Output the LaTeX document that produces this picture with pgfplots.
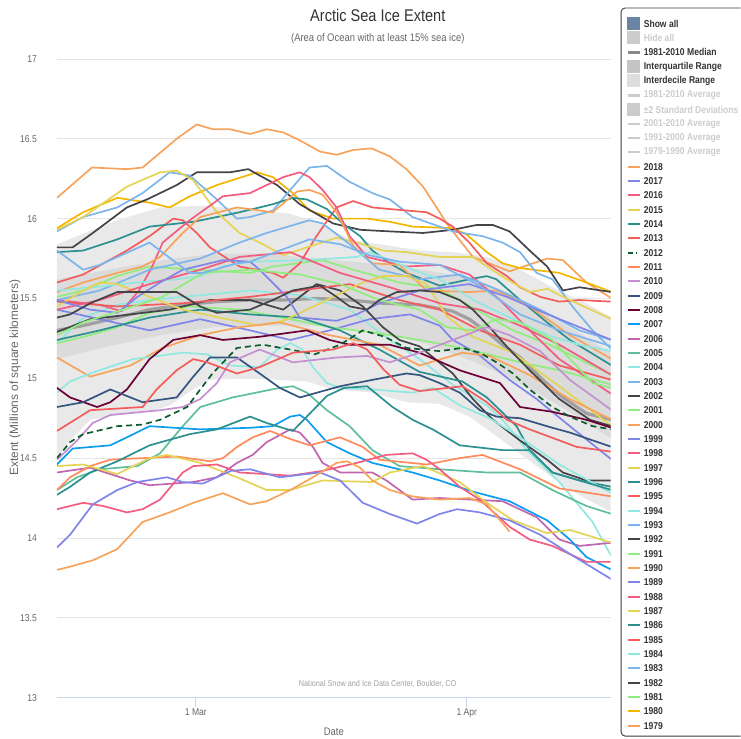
\documentclass[border=0pt]{standalone}
\usepackage{fontspec}
\setmainfont{Liberation Sans}[FakeStretch=0.86]
\newfontfamily\widefont{Liberation Sans}
\usepackage{pgfplots}
\pgfplotsset{compat=1.18}
\definecolor{cOr}{HTML}{F7A35C}
\definecolor{cGold}{HTML}{F5B500}
\definecolor{cGr}{HTML}{90ED7D}
\definecolor{cDk}{HTML}{434348}
\definecolor{cBl}{HTML}{7CB5EC}
\definecolor{cCy}{HTML}{91E8E1}
\definecolor{cRd}{HTML}{F45B5B}
\definecolor{cTl}{HTML}{2B908F}
\definecolor{cYl}{HTML}{E4D354}
\definecolor{cPk}{HTML}{F15C80}
\definecolor{cPu}{HTML}{8085E9}
\definecolor{c2005}{HTML}{5EBF9A}
\definecolor{c2006}{HTML}{C065B0}
\definecolor{c2007}{HTML}{0C9CF0}
\definecolor{c2008}{HTML}{6B0033}
\definecolor{c2009}{HTML}{33557F}
\definecolor{c2010}{HTML}{C490D2}
\definecolor{c2011}{HTML}{FF8A5C}
\definecolor{c2012}{HTML}{0D5C2E}
\definecolor{cMed}{HTML}{A0A0A0}
\definecolor{cIdr}{HTML}{E9E9E9}
\definecolor{cIqr}{HTML}{DBDBDB}
\definecolor{gridc}{HTML}{E6E6E6}
\definecolor{axisc}{HTML}{CCD6EB}
\definecolor{tickc}{HTML}{666666}
\definecolor{legtext}{HTML}{333333}
\definecolor{legbord}{HTML}{3C3C3C}
\definecolor{credc}{HTML}{A0A0A0}
\definecolor{hidc}{HTML}{CCCCCC}
\definecolor{showc}{HTML}{6A84A3}
\newcommand\tickfont{\fontsize{10}{12}\selectfont}
\newcommand\legfont{\bfseries\fontsize{10}{12}\selectfont}
\newcommand\LL[4]{%
 \pgfmathsetmacro\yy{-(23.5+#1*14.34)}%
 \draw[#2] (628,\yy) -- (640,\yy);%
 \node[anchor=west, inner sep=0pt, font=\legfont, text=#3] at (644,\yy) {#4};}
\newcommand\LB[4]{%
 \pgfmathsetmacro\yy{-(23.5+#1*14.34)}%
 \fill[#2] (627.5,\yy-6.5) rectangle (640.5,\yy+6.5);%
 \node[anchor=west, inner sep=0pt, font=\legfont, text=#3] at (644,\yy) {#4};}
\begin{document}
\begin{tikzpicture}[x=1bp,y=1bp]
\path (0,0) rectangle (741,-738);
\coordinate (AXO) at (57,-698);
\begin{axis}[
  at={(AXO)}, anchor=south west,
  scale only axis, width=554bp, height=639bp,
  xmin=44.1, xmax=107.47, ymin=13, ymax=17,
  axis line style={draw=none},
  ytick={13,13.5,14,14.5,15,15.5,16,16.5,17},
  yticklabels={13,13.5,14,14.5,15,15.5,16,16.5,17},
  xtick={60,91}, xticklabels={1 Mar,1 Apr},
  xtick pos=lower, ytick pos=left,
  tick align=outside, major tick length=9bp,
  x tick style={draw=axisc, line width=1bp},
  y tick style={draw=none},
  ymajorgrids, grid style={draw=gridc, line width=0.8bp},
  ticklabel style={font=\tickfont, text=tickc},
  yticklabel style={anchor=east, inner sep=0pt, xshift=-11bp},
  xticklabel style={anchor=base, inner sep=0pt, yshift=-9bp},
  /pgf/number format/assume math mode=true,
  clip=true,
]
% interdecile range
\addplot[fill=cIdr, draw=none] coordinates {(44.1,15.84)(51.0,15.99)(55.9,16.07)(60.5,16.08)(66.2,16.06)(70.8,16.03)(74.2,15.97)(77.6,15.87)(81.0,15.84)(85.6,15.80)(89.4,15.79)(93.3,15.76)(97.1,15.68)(100.8,15.57)(104.7,15.47)(107.6,15.38)
 (107.6,14.16)(102.8,14.30)(99.0,14.45)(95.1,14.61)(91.3,14.76)(87.9,14.84)(84.1,14.85)(80.2,14.91)(75.7,14.93)(72.7,14.98)(66.2,15.00)(61.6,14.99)(59.7,14.93)(57.0,14.83)(54.7,14.79)(51.0,14.77)(47.9,14.74)(45.6,14.61)(44.1,14.49)(44.1,15.84)};
% interquartile range
\addplot[fill=cIqr, draw=none] coordinates {(44.1,15.62)(50,15.68)(56,15.74)(62,15.78)(68,15.78)(74,15.75)(80,15.72)(86,15.68)(92,15.62)(96,15.52)(100,15.40)(104,15.28)(107.6,15.15)
 (107.6,14.62)(104,14.75)(100,14.88)(96,15.0)(92,15.10)(86,15.22)(80,15.30)(74,15.33)(68,15.33)(62,15.32)(56,15.27)(50,15.20)(44.1,15.12)(44.1,15.62)};
% median
\addplot[cMed, line width=3.2bp] coordinates {(44.1,15.30)(47.1,15.33)(51.0,15.38)(54.7,15.43)(58.5,15.46)(62.4,15.48)(66.2,15.49)(70.0,15.49)(73.8,15.50)(77.6,15.49)(81.4,15.47)(85.6,15.46)(89.4,15.42)(91.3,15.37)(93.3,15.29)(95.1,15.21)(97.1,15.13)(99.7,14.99)(102.0,14.88)(104.7,14.78)(107.6,14.74)};
\pgfplotsset{every axis plot/.append style={line width=1.7bp, line join=round}}
% 1979
\addplot[cOr] coordinates {(44.1,16.13)(48.1,16.32)(52.1,16.31)(53.9,16.32)(57.8,16.50)(60.1,16.59)(61.9,16.56)(63.9,16.56)(66.2,16.53)(68.1,16.56)(70.0,16.54)(71.9,16.49)(74.2,16.42)(76.1,16.40)(78.0,16.43)(80.1,16.44)(82.2,16.39)(84.1,16.31)(86.0,16.20)(87.9,16.04)(88.7,15.97)(91.7,15.76)(95.9,15.67)(100.2,15.75)(102.0,15.74)(104.7,15.60)(107.6,15.50)};
% 1980
\addplot[cGold] coordinates {(44.1,15.94)(47.1,16.04)(51.0,16.13)(54.7,16.10)(57.0,16.07)(59.3,16.14)(62.4,16.21)(67.0,16.29)(68.8,16.26)(71.1,16.16)(73.0,16.05)(75.7,16.00)(79.6,16.00)(82.2,15.98)(84.8,15.95)(89.4,15.94)(91.0,15.90)(93.3,15.79)(95.1,15.72)(97.1,15.69)(101.6,15.66)(104.7,15.60)(107.6,15.54)};
% 1981
\addplot[cGr] coordinates {(44.1,15.51)(47.1,15.55)(51.0,15.64)(54.7,15.70)(59.7,15.68)(66.2,15.66)(68.8,15.70)(74.5,15.74)(78.0,15.68)(83.3,15.60)(87.9,15.56)(92.1,15.43)(96.3,15.30)(100.5,15.21)(107.6,15.02)};
% 1982
\addplot[cDk] coordinates {(44.1,15.82)(45.9,15.82)(48.2,15.91)(52.1,16.07)(54.4,16.12)(57.8,16.21)(60.1,16.29)(63.9,16.29)(66.0,16.31)(67.3,16.27)(69.3,16.21)(71.9,16.09)(75.7,15.97)(78.8,15.93)(82.2,15.92)(86.0,15.91)(89.4,15.93)(92.1,15.96)(94.0,15.96)(95.9,15.92)(98.2,15.80)(100.2,15.70)(102.0,15.55)(103.9,15.57)(107.6,15.54)};
% 1983
\addplot[cBl] coordinates {(44.1,15.92)(47.1,16.01)(51.0,16.07)(53.9,16.16)(57.0,16.29)(59.3,16.27)(62.4,16.12)(64.7,16.00)(66.2,16.01)(68.8,16.05)(70.8,16.18)(73.0,16.32)(75.0,16.33)(77.6,16.23)(80.2,16.16)(82.2,16.12)(84.8,16.01)(87.9,15.95)(89.4,15.92)(92.8,15.89)(95.1,15.85)(97.1,15.79)(99.0,15.66)(100.8,15.62)(103.1,15.45)(105.4,15.30)(107.6,15.18)};
% 1984
\addplot[cCy] coordinates {(44.1,15.22)(47.1,15.38)(51.0,15.46)(54.7,15.49)(60.5,15.52)(66.2,15.55)(71.9,15.52)(77.6,15.43)(82.2,15.24)(85.6,15.12)(89.4,14.96)(93.3,14.83)(95.1,14.74)(97.9,14.55)(101.6,14.35)(105.4,14.10)(107.6,13.88)};
% 1985
\addplot[cRd] coordinates {(44.1,15.60)(47.1,15.65)(52.1,15.80)(54.7,15.89)(57.4,16.00)(58.5,15.99)(60.1,15.91)(61.6,15.82)(65.0,15.70)(68.8,15.66)(70.0,15.63)(71.9,15.72)(73.8,15.89)(76.1,16.07)(78.0,16.11)(80.2,16.07)(82.2,16.06)(86.4,16.04)(87.9,16.00)(89.4,15.95)(91.3,15.85)(93.3,15.72)(95.6,15.64)(97.1,15.57)(99.4,15.51)(101.6,15.48)(103.9,15.49)(107.6,15.48)};
% 1986
\addplot[cTl] coordinates {(44.1,15.79)(47.1,15.80)(51.0,15.87)(54.7,15.95)(59.7,15.98)(62.4,16.01)(65.0,16.04)(68.8,16.09)(71.1,16.13)(72.7,16.12)(75.0,16.06)(76.8,15.97)(78.8,15.89)(80.2,15.80)(82.2,15.72)(84.1,15.66)(86.0,15.62)(87.9,15.58)(91.3,15.62)(93.3,15.64)(94.4,15.62)(97.1,15.49)(100.2,15.35)(102.8,15.24)(107.6,15.08)};
% 1987
\addplot[cYl] coordinates {(44.1,15.93)(47.1,16.01)(52.1,16.20)(55.9,16.29)(57.8,16.30)(59.7,16.24)(62.4,16.04)(65.0,15.91)(67.3,15.85)(70.0,15.77)(72.7,15.82)(76.1,15.88)(78.4,15.85)(81.4,15.80)(84.1,15.79)(87.9,15.76)(91.7,15.76)(93.3,15.70)(95.6,15.62)(98.2,15.54)(100.2,15.56)(102.8,15.49)(107.6,15.37)};
% 1988
\addplot[cPk] coordinates {(44.1,15.49)(49.0,15.46)(51.5,15.42)(53.5,15.55)(55.0,15.70)(56.2,15.85)(59.3,15.99)(63.1,16.14)(66.2,16.16)(70.0,16.26)(71.9,16.29)(73.0,16.26)(74.5,16.18)(76.1,16.07)(77.6,15.89)(79.6,15.76)(84.1,15.70)(87.9,15.71)(91.3,15.65)(94.8,15.49)(98.2,15.30)(101.6,15.12)(107.6,14.90)};
% 1989
\addplot[cPu] coordinates {(44.1,15.43)(49.0,15.37)(54.7,15.30)(60.5,15.37)(66.2,15.30)(70.8,15.24)(75.3,15.30)(79.9,15.37)(84.5,15.40)(87.9,15.33)(89.4,15.24)(92.1,15.16)(95.9,14.99)(99.0,14.87)(102.8,14.70)(107.6,14.49)};
% 1990
\addplot[cOr] coordinates {(44.1,15.54)(47.1,15.60)(51.0,15.66)(53.9,15.70)(55.9,15.76)(58.5,15.91)(60.5,16.01)(64.7,16.07)(68.8,16.04)(71.6,16.17)(73.0,16.18)(74.5,16.15)(76.1,16.04)(78.0,15.83)(80.2,15.72)(83.3,15.71)(86.4,15.55)(91.3,15.54)(94.4,15.55)(98.2,15.45)(102.8,15.27)(107.6,15.12)};
% 1991
\addplot[cGr] coordinates {(44.1,15.22)(47.9,15.27)(51.0,15.32)(54.7,15.41)(59.3,15.45)(65.0,15.43)(70.8,15.37)(75.3,15.32)(79.9,15.29)(85.6,15.24)(91.3,15.18)(97.1,15.10)(101.6,15.05)(107.6,14.96)};
% 1992
\addplot[cDk] coordinates {(44.1,15.29)(47.9,15.37)(52.5,15.40)(57.0,15.43)(61.6,15.49)(66.2,15.49)(70.0,15.43)(73.8,15.59)(76.5,15.55)(79.1,15.45)(81.4,15.32)(83.3,15.24)(85.6,15.20)(89.4,15.03)(91.7,14.87)(94.0,14.74)(97.1,14.61)(100.2,14.49)(102.0,14.41)(104.7,14.36)(107.6,14.36)};
% 1993
\addplot[cBl] coordinates {(44.1,15.49)(49.0,15.55)(54.7,15.68)(60.5,15.75)(65.0,15.85)(68.1,15.91)(73.0,15.99)(74.5,15.97)(77.6,15.84)(81.0,15.68)(85.6,15.62)(90.2,15.65)(94.8,15.55)(99.4,15.43)(103.9,15.30)(107.6,15.24)};
% 1994
\addplot[cCy] coordinates {(44.1,15.55)(48.2,15.57)(53.3,15.60)(57.8,15.62)(60.5,15.64)(63.1,15.70)(66.2,15.73)(72.7,15.74)(78.4,15.76)(79.9,15.79)(82.2,15.74)(84.8,15.68)(87.9,15.62)(92.1,15.48)(97.1,15.35)(100.8,15.26)(103.9,15.21)(107.6,15.17)};
% 1995
\addplot[cRd] coordinates {(44.1,15.48)(51.0,15.45)(58.5,15.47)(66.2,15.51)(71.9,15.55)(77.6,15.59)(83.3,15.49)(87.9,15.43)(92.5,15.30)(97.1,15.21)(101.6,15.08)(107.6,14.99)};
% 1996
\addplot[cTl] coordinates {(44.1,15.24)(49.0,15.30)(54.7,15.38)(60.5,15.43)(66.2,15.40)(71.9,15.38)(76.5,15.30)(81.0,15.18)(85.6,15.04)(90.5,14.98)(93.3,14.88)(96.7,14.70)(98.2,14.55)(100.8,14.41)(103.9,14.36)(107.6,14.32)};
% 1997
\addplot[cYl] coordinates {(44.1,15.45)(47.1,15.55)(49.0,15.60)(51.0,15.59)(54.7,15.51)(58.5,15.43)(62.7,15.38)(67.3,15.33)(70.0,15.36)(72.7,15.43)(76.5,15.53)(79.1,15.60)(81.4,15.64)(84.1,15.64)(86.4,15.59)(88.7,15.39)(91.7,15.26)(96.3,15.16)(101.6,14.95)(107.6,14.70)};
% 1998
\addplot[cPk] coordinates {(44.1,15.43)(49.0,15.49)(54.7,15.59)(60.5,15.68)(65.0,15.76)(70.8,15.79)(76.5,15.66)(82.2,15.57)(87.9,15.47)(92.5,15.43)(97.1,15.33)(101.6,15.21)(107.6,15.02)};
% 1999
\addplot[cPu] coordinates {(44.1,15.49)(47.9,15.43)(51.0,15.41)(53.3,15.51)(55.9,15.60)(58.5,15.68)(63.1,15.74)(66.2,15.73)(67.3,15.68)(70.4,15.51)(71.9,15.38)(76.1,15.36)(78.4,15.40)(81.0,15.47)(85.6,15.55)(91.3,15.59)(95.6,15.51)(99.4,15.42)(103.9,15.32)(107.6,15.24)};
% 2000
\addplot[cOr] coordinates {(44.1,15.13)(47.9,15.01)(52.5,15.08)(56.2,15.19)(60.5,15.27)(65.0,15.32)(69.6,15.35)(75.3,15.27)(81.0,15.21)(85.6,15.08)(90.5,15.16)(93.6,15.14)(98.2,15.02)(102.8,14.87)(107.6,14.74)};
% 2001
\addplot[cGr] coordinates {(44.1,15.27)(47.1,15.35)(51.7,15.43)(56.2,15.51)(60.8,15.66)(66.2,15.68)(71.9,15.65)(76.5,15.59)(81.0,15.49)(85.6,15.43)(88.7,15.32)(91.7,15.30)(94.4,15.37)(97.1,15.35)(100.8,15.24)(105.4,14.97)(107.6,14.94)};
% 2002
\addplot[cDk] coordinates {(44.1,15.38)(45.6,15.40)(47.9,15.47)(51.0,15.54)(54.7,15.54)(57.8,15.54)(60.5,15.45)(62.4,15.41)(66.2,15.43)(68.8,15.49)(71.1,15.55)(74.2,15.58)(76.1,15.51)(77.6,15.45)(79.6,15.43)(81.0,15.49)(83.0,15.54)(85.6,15.55)(87.9,15.54)(90.2,15.49)(91.7,15.43)(93.6,15.32)(95.9,15.18)(98.2,15.05)(101.6,14.87)(105.1,14.74)(107.6,14.70)};
% 2003
\addplot[cBl] coordinates {(44.1,15.80)(47.1,15.68)(49.0,15.71)(54.7,15.85)(55.9,15.80)(59.3,15.66)(60.8,15.66)(64.7,15.72)(66.2,15.73)(69.6,15.80)(73.0,15.87)(76.5,15.84)(79.9,15.77)(83.3,15.73)(87.9,15.71)(92.5,15.58)(97.1,15.40)(101.6,15.30)(107.6,15.20)};
% 2004
\addplot[cCy] coordinates {(44.1,14.91)(45.6,14.98)(47.9,15.03)(52.8,15.12)(58.5,15.16)(61.3,15.15)(63.9,15.08)(67.3,15.07)(69.3,15.18)(70.8,15.22)(72.2,15.18)(73.4,15.07)(75.0,14.97)(76.5,14.94)(80.2,14.93)(84.8,14.91)(87.1,14.94)(90.2,14.83)(93.6,14.75)(97.1,14.63)(101.6,14.46)(107.6,14.28)};
% 2005
\addplot[c2005] coordinates {(44.1,14.30)(46.4,14.38)(49.0,14.43)(53.3,14.45)(55.9,14.53)(58.5,14.70)(60.5,14.82)(64.2,14.88)(69.6,14.94)(71.1,14.95)(72.7,14.91)(75.0,14.80)(77.6,14.70)(80.2,14.55)(83.3,14.45)(87.9,14.43)(93.3,14.41)(97.1,14.41)(100.8,14.30)(104.7,14.20)(107.6,14.15)};
% 2006
\addplot[c2006] coordinates {(44.1,14.41)(47.9,14.44)(52.5,14.36)(54.7,14.33)(59.7,14.35)(62.4,14.38)(64.7,14.47)(66.5,14.52)(68.1,14.60)(70.8,14.68)(71.9,14.66)(73.4,14.57)(74.5,14.47)(76.5,14.41)(80.2,14.41)(81.8,14.36)(84.8,14.24)(87.9,14.25)(95.1,14.23)(99.0,14.13)(101.6,13.99)(103.9,13.95)(107.6,13.97)};
% 2007
\addplot[c2007] coordinates {(44.1,14.46)(45.9,14.56)(50.2,14.58)(52.1,14.63)(54.7,14.70)(60.5,14.68)(66.2,14.69)(68.8,14.70)(70.8,14.76)(71.9,14.77)(72.7,14.74)(75.0,14.60)(77.6,14.53)(80.2,14.47)(84.8,14.41)(87.9,14.36)(91.7,14.29)(95.9,14.23)(100.2,14.11)(102.8,13.99)(104.7,13.88)(107.6,13.80)};
% 2008
\addplot[c2008] coordinates {(44.1,14.94)(45.6,14.88)(48.7,14.82)(50.2,14.85)(52.1,14.93)(54.7,15.12)(57.4,15.24)(60.5,15.27)(63.1,15.24)(67.3,15.26)(72.7,15.30)(75.3,15.24)(77.6,15.21)(82.2,15.21)(85.6,15.16)(90.2,15.05)(94.8,14.97)(97.1,14.82)(100.8,14.79)(104.7,14.74)(107.6,14.69)};
% 2009
\addplot[c2009] coordinates {(44.1,14.82)(47.1,14.85)(50.2,14.93)(53.9,14.85)(57.8,14.88)(59.7,15.01)(61.6,15.13)(64.7,15.13)(67.3,15.03)(69.6,14.94)(71.9,14.88)(76.5,14.95)(80.2,14.99)(84.1,15.03)(85.6,15.02)(87.9,14.97)(90.2,14.91)(92.5,14.80)(94.4,14.76)(97.1,14.75)(100.8,14.69)(102.8,14.66)(107.6,14.57)};
% 2010
\addplot[c2010] coordinates {(44.1,14.49)(46.4,14.61)(48.2,14.72)(50.2,14.77)(55.9,14.80)(58.5,14.82)(60.5,14.87)(62.4,14.97)(63.9,15.10)(67.3,15.18)(71.1,15.10)(76.1,15.13)(79.6,15.14)(82.2,15.10)(85.6,15.16)(89.4,15.24)(93.3,15.32)(95.9,15.27)(99.4,15.17)(102.8,14.99)(107.6,14.80)};
% 2011
\addplot[c2011] coordinates {(44.1,14.30)(45.6,14.38)(47.9,14.45)(50.2,14.49)(57.8,14.51)(61.6,14.48)(63.1,14.50)(64.7,14.57)(66.5,14.63)(68.5,14.67)(70.8,14.62)(73.0,14.58)(76.5,14.63)(79.1,14.57)(81.0,14.49)(86.4,14.46)(90.2,14.50)(92.8,14.52)(97.1,14.43)(101.6,14.31)(107.6,14.26)};
% 2012
\addplot[c2012, dash pattern=on 6bp off 4bp] coordinates {(44.1,14.50)(45.6,14.60)(47.1,14.65)(51.0,14.70)(53.9,14.71)(55.9,14.74)(59.0,14.82)(60.5,14.93)(61.9,15.03)(64.7,15.19)(67.7,15.21)(70.8,15.18)(73.6,15.15)(76.5,15.21)(79.1,15.30)(81.6,15.26)(84.1,15.19)(87.9,15.17)(90.5,15.19)(92.5,15.16)(94.4,15.10)(96.3,15.03)(98.2,14.93)(100.8,14.82)(102.8,14.76)(105.4,14.70)(107.6,14.68)};
% 2013
\addplot[cRd] coordinates {(44.1,14.67)(47.9,14.80)(53.9,14.82)(55.5,14.93)(57.8,15.05)(59.7,15.12)(61.3,15.10)(64.7,15.03)(67.3,15.07)(71.1,15.16)(75.7,15.18)(78.0,15.22)(79.6,15.18)(81.4,15.06)(83.3,14.96)(85.6,14.92)(90.5,14.95)(93.3,14.85)(95.6,14.74)(98.2,14.68)(103.6,14.57)(107.6,14.54)};
% 2014
\addplot[cTl] coordinates {(44.1,14.27)(45.6,14.32)(47.9,14.41)(51.0,14.48)(54.7,14.58)(59.3,14.65)(62.4,14.68)(66.2,14.76)(68.1,14.72)(71.1,14.67)(72.7,14.76)(75.0,14.89)(77.0,14.94)(79.6,14.95)(82.5,14.82)(84.8,14.74)(87.1,14.68)(90.2,14.58)(95.1,14.55)(98.2,14.55)(100.8,14.41)(107.6,14.30)};
% 2015
\addplot[cYl] coordinates {(44.1,14.45)(47.1,14.46)(51.0,14.40)(54.7,14.50)(56.7,14.52)(60.5,14.47)(64.7,14.38)(68.1,14.30)(70.8,14.30)(74.5,14.36)(80.2,14.35)(82.2,14.41)(86.0,14.45)(90.2,14.35)(93.3,14.22)(96.3,14.11)(100.2,14.03)(102.8,14.05)(107.6,13.97)};
% 2016
\addplot[cPk] coordinates {(44.1,14.18)(47.1,14.22)(49.4,14.20)(52.1,14.16)(53.9,14.18)(55.9,14.24)(58.5,14.41)(59.7,14.45)(62.4,14.46)(65.0,14.41)(70.8,14.39)(74.5,14.42)(78.4,14.47)(81.8,14.52)(84.8,14.53)(86.4,14.49)(87.9,14.43)(90.2,14.32)(92.5,14.24)(95.9,14.07)(98.2,13.99)(100.8,13.95)(104.7,13.85)(107.6,13.85)};
% 2017
\addplot[cPu] coordinates {(44.1,13.94)(45.6,14.02)(48.2,14.21)(51.0,14.30)(53.3,14.35)(56.7,14.38)(58.5,14.35)(60.8,14.34)(64.0,14.42)(66.2,14.43)(69.6,14.38)(74.2,14.41)(76.5,14.36)(79.1,14.22)(82.2,14.15)(85.3,14.09)(87.9,14.15)(89.9,14.18)(92.5,14.16)(95.9,14.11)(99.4,14.02)(102.8,13.90)(107.6,13.74)};
% 2018
\addplot[cOr] coordinates {(44.1,13.80)(45.6,13.82)(48.2,13.86)(51.0,13.93)(53.9,14.10)(57.0,14.16)(59.7,14.22)(63.1,14.28)(66.2,14.21)(68.1,14.23)(70.8,14.30)(73.4,14.38)(76.1,14.47)(77.3,14.48)(78.8,14.44)(80.2,14.36)(82.2,14.30)(84.8,14.26)(87.9,14.24)(91.3,14.25)(93.3,14.21)(95.9,14.04)};
\draw[axisc, line width=1bp] (rel axis cs:0,0) -- (rel axis cs:1,0);
\node[font=\fontsize{8.5}{10}\selectfont, text=credc] at (axis cs:80.8,13.088) {National Snow and Ice Data Center, Boulder, CO};
\end{axis}
% titles
\node[font=\fontsize{17}{20}\selectfont, text=legtext] at (378,-15) {Arctic Sea Ice Extent};
\node[font=\fontsize{11}{13}\selectfont, text=tickc] at (378,-39) {(Area of Ocean with at least 15\% sea ice)};
\node[font=\widefont\fontsize{12}{14}\selectfont, text=tickc, rotate=90] at (15,-378) {Extent (Millions of square kilometers)};
\node[font=\fontsize{11}{13}\selectfont, text=tickc] at (334,-732) {Date};
% legend
\draw[rounded corners=4bp, draw=legbord, line width=0.9bp] (741,-8) -- (621.5,-8) -- (621.5,-736.5) -- (741,-736.5);
\LB{0}{showc}{legtext}{Show all}
\LB{1}{hidc}{hidc}{Hide all}
\LL{2}{cMed!85!black, line width=3bp}{legtext}{1981-2010 Median}
\LB{3}{cIqr!90!black}{legtext}{Interquartile Range}
\LB{4}{cIdr!95!black}{legtext}{Interdecile Range}
\LL{5}{hidc, line width=3bp}{hidc}{1981-2010 Average}
\LB{6}{hidc}{hidc}{±2 Standard Deviations}
\LL{7}{hidc, line width=2bp}{hidc}{2001-2010 Average}
\LL{8}{hidc, line width=2bp}{hidc}{1991-2000 Average}
\LL{9}{hidc, line width=2bp}{hidc}{1979-1990 Average}
\LL{10}{cOr, line width=2bp}{legtext}{2018}
\LL{11}{cPu, line width=2bp}{legtext}{2017}
\LL{12}{cPk, line width=2bp}{legtext}{2016}
\LL{13}{cYl, line width=2bp}{legtext}{2015}
\LL{14}{cTl, line width=2bp}{legtext}{2014}
\LL{15}{cRd, line width=2bp}{legtext}{2013}
\LL{16}{c2012, line width=2bp, dash pattern=on 5bp off 3bp on 1.5bp off 10bp}{legtext}{2012}
\LL{17}{c2011, line width=2bp}{legtext}{2011}
\LL{18}{c2010, line width=2bp}{legtext}{2010}
\LL{19}{c2009, line width=2bp}{legtext}{2009}
\LL{20}{c2008, line width=2bp}{legtext}{2008}
\LL{21}{c2007, line width=2bp}{legtext}{2007}
\LL{22}{c2006, line width=2bp}{legtext}{2006}
\LL{23}{c2005, line width=2bp}{legtext}{2005}
\LL{24}{cCy, line width=2bp}{legtext}{2004}
\LL{25}{cBl, line width=2bp}{legtext}{2003}
\LL{26}{cDk, line width=2bp}{legtext}{2002}
\LL{27}{cGr, line width=2bp}{legtext}{2001}
\LL{28}{cOr, line width=2bp}{legtext}{2000}
\LL{29}{cPu, line width=2bp}{legtext}{1999}
\LL{30}{cPk, line width=2bp}{legtext}{1998}
\LL{31}{cYl, line width=2bp}{legtext}{1997}
\LL{32}{cTl, line width=2bp}{legtext}{1996}
\LL{33}{cRd, line width=2bp}{legtext}{1995}
\LL{34}{cCy, line width=2bp}{legtext}{1994}
\LL{35}{cBl, line width=2bp}{legtext}{1993}
\LL{36}{cDk, line width=2bp}{legtext}{1992}
\LL{37}{cGr, line width=2bp}{legtext}{1991}
\LL{38}{cOr, line width=2bp}{legtext}{1990}
\LL{39}{cPu, line width=2bp}{legtext}{1989}
\LL{40}{cPk, line width=2bp}{legtext}{1988}
\LL{41}{cYl, line width=2bp}{legtext}{1987}
\LL{42}{cTl, line width=2bp}{legtext}{1986}
\LL{43}{cRd, line width=2bp}{legtext}{1985}
\LL{44}{cCy, line width=2bp}{legtext}{1984}
\LL{45}{cBl, line width=2bp}{legtext}{1983}
\LL{46}{cDk, line width=2bp}{legtext}{1982}
\LL{47}{cGr, line width=2bp}{legtext}{1981}
\LL{48}{cGold, line width=2bp}{legtext}{1980}
\LL{49}{cOr, line width=2bp}{legtext}{1979}
\end{tikzpicture}
\end{document}
